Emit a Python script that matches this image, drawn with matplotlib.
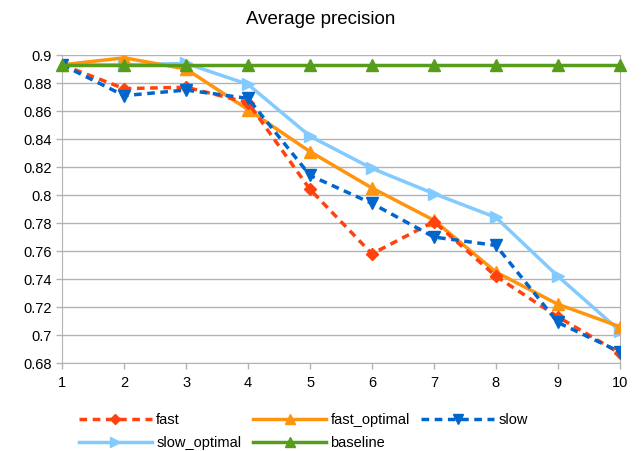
import matplotlib
matplotlib.use("Agg")
import matplotlib.pyplot as plt

plt.rcParams["font.family"] = ["Liberation Sans", "DejaVu Sans"]

steps = [1, 2, 3, 4, 5, 6, 7, 8, 9, 10]
fast = [0.893, 0.876, 0.877, 0.866, 0.804, 0.758, 0.781, 0.742, 0.713, 0.687]
fast_optimal = [0.893, 0.898, 0.890, 0.861, 0.831, 0.805, 0.782, 0.745, 0.722, 0.706]
slow = [0.893, 0.871, 0.875, 0.869, 0.814, 0.794, 0.770, 0.764, 0.709, 0.688]
slow_optimal = [0.893, 0.893, 0.894, 0.879, 0.842, 0.819, 0.801, 0.784, 0.742, 0.703]
baseline = [0.893] * 10

y_ticks = [0.68, 0.7, 0.72, 0.74, 0.76, 0.78, 0.8, 0.82, 0.84, 0.86, 0.88, 0.9]
y_labels = ["0.68", "0.7", "0.72", "0.74", "0.76", "0.78", "0.8", "0.82",
            "0.84", "0.86", "0.88", "0.9"]

fig = plt.figure(figsize=(6.41, 4.51), dpi=100)
ax = fig.add_axes([0.097, 0.195, 0.870, 0.683])

dash = (0, (2.2, 1.6))
lw = 2.5
h_fast, = ax.plot(steps, fast, color="#ff420e", ls=dash, lw=lw, marker="D",
                  ms=6, label="fast", zorder=4)
h_fopt, = ax.plot(steps, fast_optimal, color="#ff950e", ls="-", lw=lw,
                  marker="^", ms=9, label="fast_optimal", zorder=3)
h_slow, = ax.plot(steps, slow, color="#0066cc", ls=dash, lw=lw, marker="v",
                  ms=9, label="slow", zorder=4)
h_sopt, = ax.plot(steps, slow_optimal, color="#83caff", ls="-", lw=lw,
                  marker=">", ms=9, label="slow_optimal", zorder=2)
h_base, = ax.plot(steps, baseline, color="#579d1c", ls="-", lw=lw, marker="^",
                  ms=9, label="baseline", zorder=5, clip_on=False)

ax.set_xlim(1, 10)
ax.set_ylim(0.68, 0.9)
ax.set_xticks(steps)
ax.set_yticks(y_ticks)
ax.set_yticklabels(y_labels)
ax.grid(axis="y", color="#b3b3b3", lw=1)
ax.set_axisbelow(True)
for side in ["left", "right", "bottom", "top"]:
    ax.spines[side].set_color("#b3b3b3")
ax.spines["top"].set_visible(False)
ax.tick_params(axis="both", colors="#b3b3b3", labelcolor="black",
               labelsize=10.5, length=4, width=1)
ax.tick_params(axis="x", pad=5)

fig.suptitle("Average precision", fontsize=13.5, y=0.975)

# row-wise legend order like the original (matplotlib fills by column)
handles = [h_fast, h_sopt, h_fopt, h_base, h_slow]
ax.legend(handles=handles, labels=[h.get_label() for h in handles],
          loc="upper left", bbox_to_anchor=(0.025, -0.153), ncol=3,
          frameon=False, fontsize=10.5, handlelength=5.0, handletextpad=0.3,
          columnspacing=0.8, labelspacing=0.6, borderaxespad=0,
          borderpad=0.2, markerscale=0.8)

fig.savefig("out.png", dpi=100)
